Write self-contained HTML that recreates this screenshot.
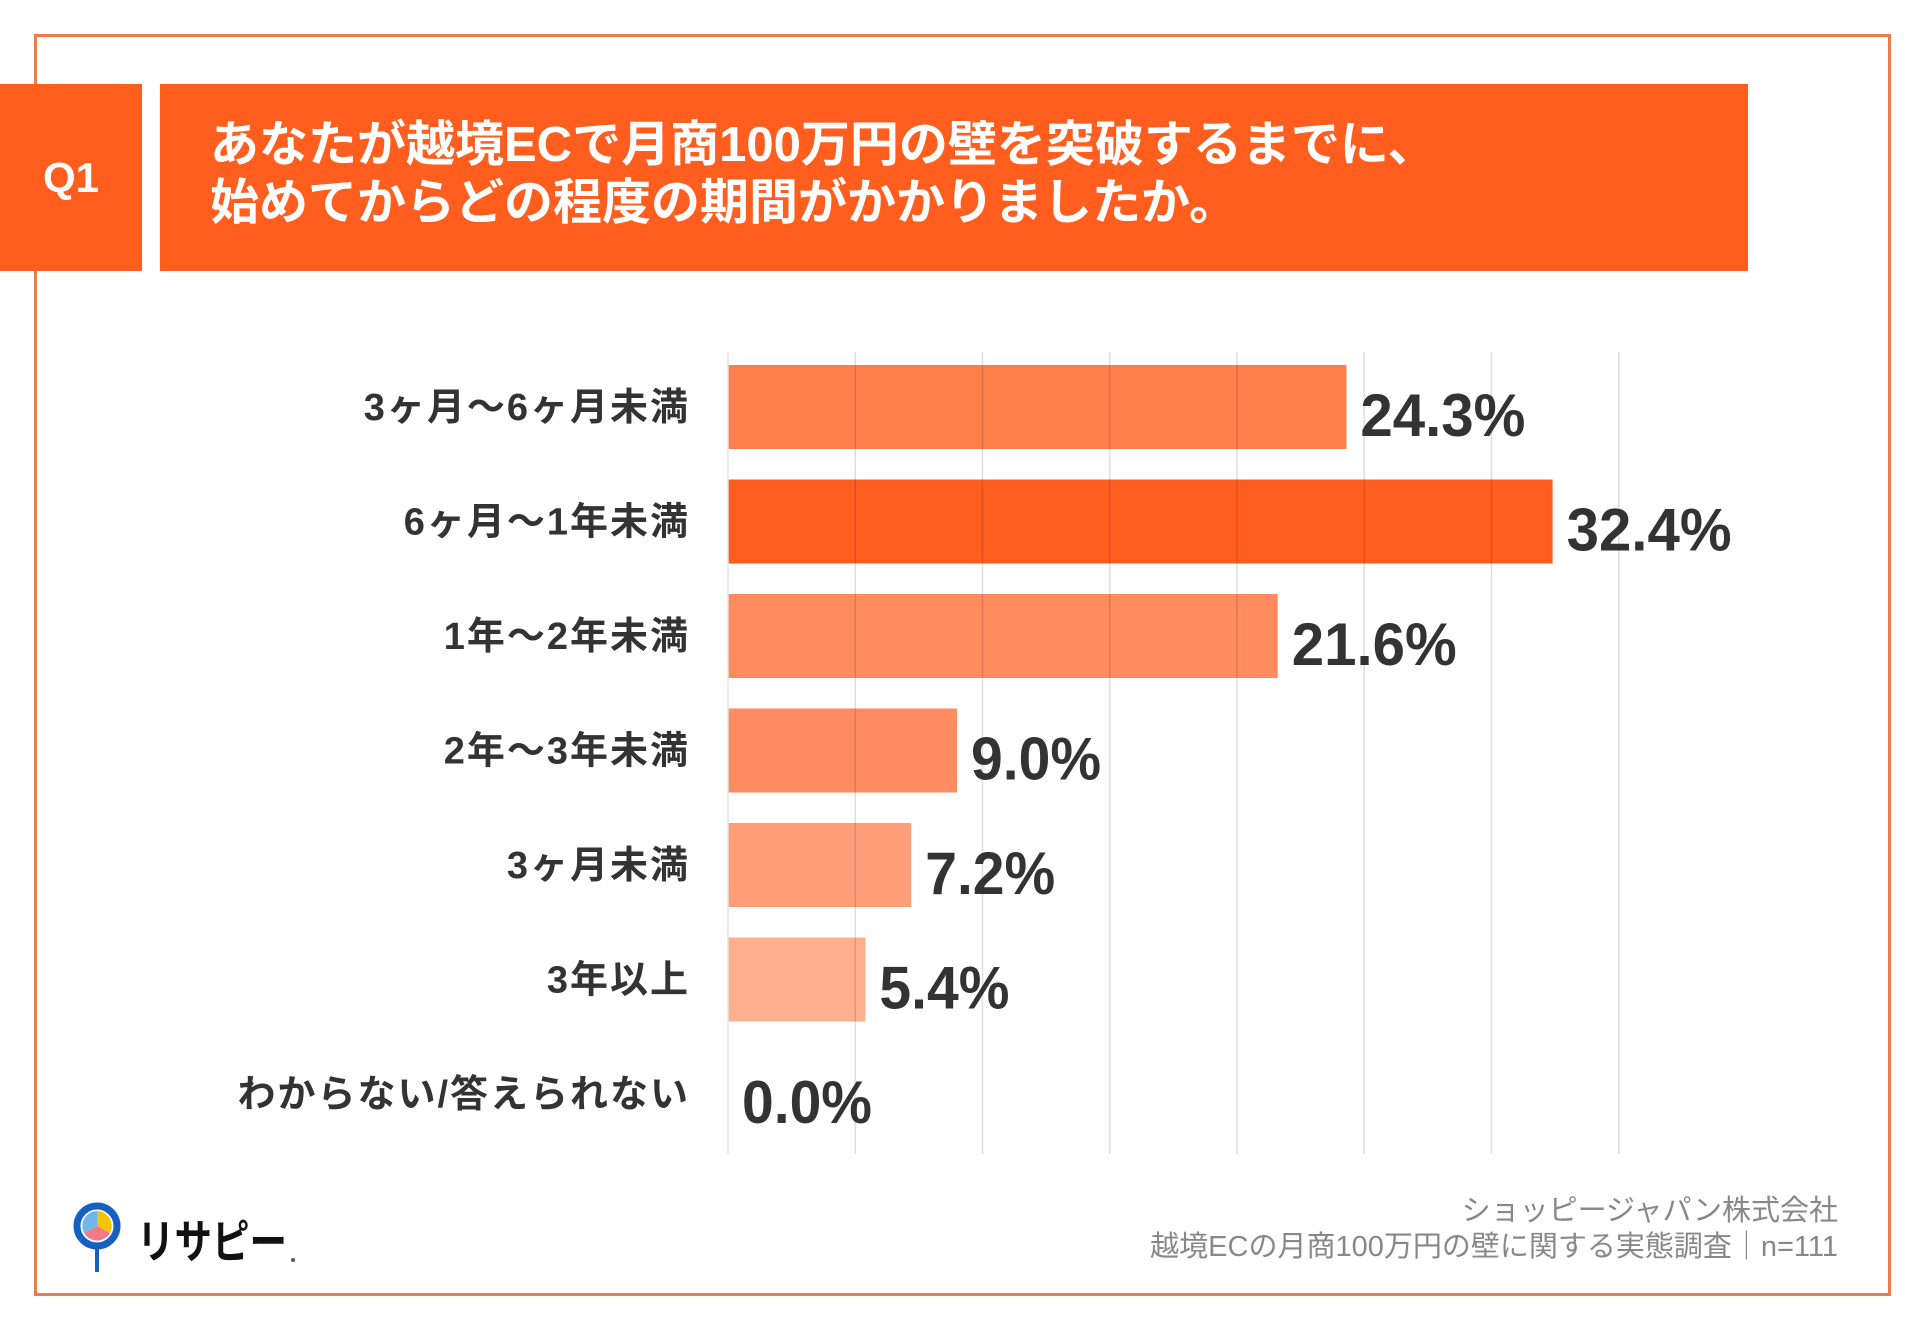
<!DOCTYPE html>
<html><head><meta charset="utf-8"><style>
body{margin:0;width:1920px;height:1329px;background:#fff;position:relative;overflow:hidden;font-family:"Liberation Sans","Noto Sans CJK JP",sans-serif;}
.abs{position:absolute}
</style></head><body>
<div class="abs" style="left:34px;top:34px;width:1851px;height:1256px;border:3px solid #ef7a4a;"></div>
<div class="abs" style="left:0;top:84px;width:142px;height:187px;background:#ff5e1f;color:#fff;font-weight:bold;font-size:42px;line-height:187px;text-align:center;">Q1</div>
<div class="abs" style="left:160px;top:84px;width:1588px;height:187px;background:#ff5e1f;"></div>
<div class="abs" style="left:210px;top:116px;color:#fff;font-weight:bold;font-size:49px;line-height:58px;font-family:'Liberation Sans','Noto Sans CJK JP',sans-serif;">あなたが越境ECで月商100万円の壁を突破するまでに、<br>始めてからどの程度の期間がかかりましたか。</div>
<svg class="abs" style="left:0;top:0" width="1920" height="1329">
<g id="bars"></g><g id="grid"></g><g id="labels"></g>
</svg>
<div class="abs" style="left:71px;top:1200px;width:240px;height:75px;">
<svg width="240" height="75"><circle cx="26" cy="26" r="20" fill="#fff" stroke="#1560c0" stroke-width="7"/><path d="M26 26 L26 11 A15 15 0 0 1 39 33 Z" fill="#f5c400"/><path d="M26 26 L39 33 A15 15 0 0 1 13 33 Z" fill="#f07a8a"/><path d="M26 26 L13 33 A15 15 0 0 1 26 11 Z" fill="#6fb7e8"/><rect x="24" y="48" width="4" height="24" fill="#1560c0"/>
<text x="66" y="58" font-size="46" font-weight="bold" fill="#111" font-family="Liberation Sans,Noto Sans CJK JP,sans-serif" textLength="150" lengthAdjust="spacingAndGlyphs">リサピー</text><circle cx="222" cy="60" r="2" fill="#555"/></svg></div>
<div class="abs" style="right:82px;top:1193px;text-align:right;color:#888;font-size:29px;line-height:36px;">ショッピージャパン株式会社<br>越境ECの月商100万円の壁に関する実態調査｜n=111</div>
<script>
const categories=["3ヶ月〜6ヶ月未満","6ヶ月〜1年未満","1年〜2年未満","2年〜3年未満","3ヶ月未満","3年以上","わからない/答えられない"];
const values=[24.3,32.4,21.6,9.0,7.2,5.4,0.0];
const colors=["#ff7f4c","#ff5c1f","#ff8b5e","#ff8c60","#ff9e78","#ffae8e","#ffb89a"];
const ticks=[0,5,10,15,20,25,30,35];
const NS="http://www.w3.org/2000/svg";
const x0=728,pxPer=25.45,y0=365,pitch=114.5,bh=84;
const xs=v=>x0+v*pxPer;
const ys=i=>y0+i*pitch;
const gb=document.getElementById('bars'),gg=document.getElementById('grid'),gl=document.getElementById('labels');
ticks.forEach(t=>{const l=document.createElementNS(NS,'line');


l.setAttribute('x1',xs(t));l.setAttribute('x2',xs(t));l.setAttribute('y1',352);l.setAttribute('y2',1154);l.setAttribute('stroke',t===0?'#e4e4e4':'rgba(0,0,0,0.13)');l.setAttribute('stroke-width',1.5);gg.appendChild(l);});
values.forEach((v,i)=>{
const r=document.createElementNS(NS,'rect');


r.setAttribute('x',x0);r.setAttribute('y',ys(i));r.setAttribute('width',Math.max(0,xs(v)-x0));r.setAttribute('height',bh);r.setAttribute('fill',colors[i]);gb.appendChild(r);
const c=document.createElementNS(NS,'text');


c.setAttribute('x',690);c.setAttribute('y',ys(i)+bh/2+3);c.setAttribute('text-anchor','end');c.setAttribute('dominant-baseline','middle');c.setAttribute('font-size',38);c.setAttribute('letter-spacing',2);c.setAttribute('font-weight','bold');c.setAttribute('fill','#333');c.setAttribute('font-family','Liberation Sans,Noto Sans CJK JP,sans-serif');c.textContent=categories[i];gl.appendChild(c);
const t=document.createElementNS(NS,'text');


t.setAttribute('x',xs(v)+14);t.setAttribute('y',ys(i)+bh/2+29);t.setAttribute('font-size',60);t.setAttribute('font-weight','bold');t.setAttribute('fill','#333');t.setAttribute('font-family','Liberation Sans,sans-serif');t.setAttribute('textLength',v>=10?165:130);t.setAttribute('lengthAdjust','spacingAndGlyphs');t.textContent=v.toFixed(1)+'%';gl.appendChild(t);
});
</script>
</body></html>
